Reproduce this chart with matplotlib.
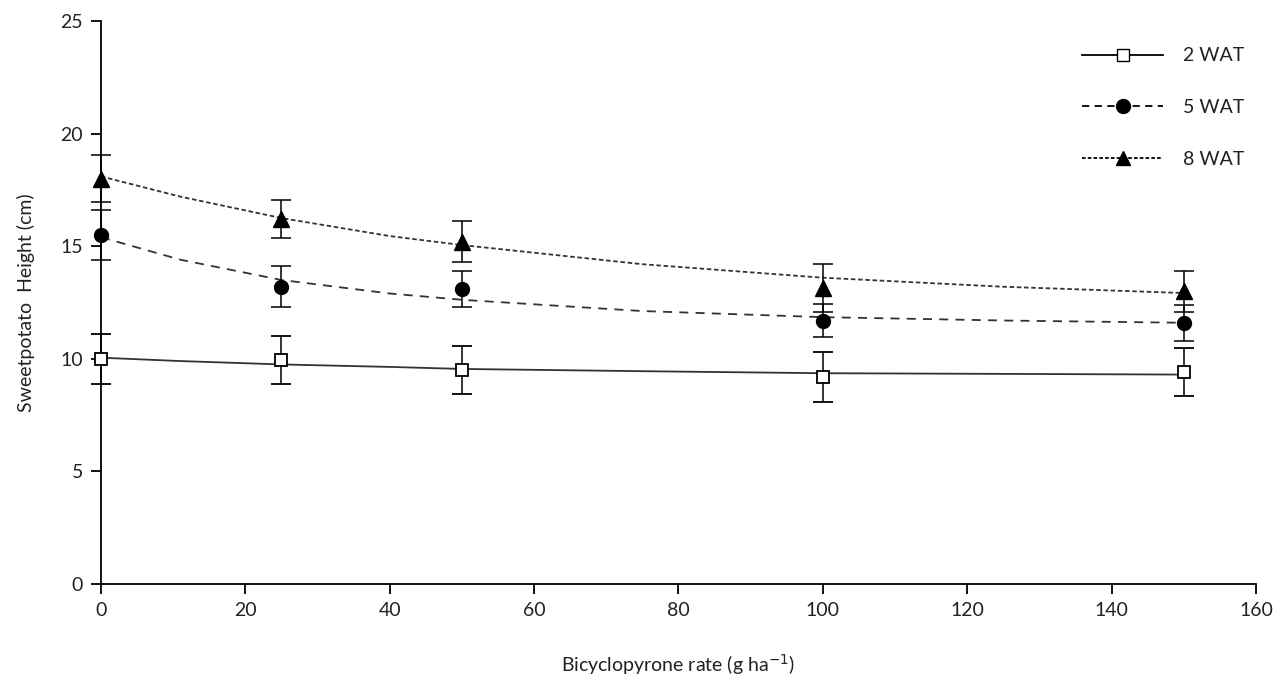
import matplotlib.pyplot as plt

plt.rcParams['font.family'] = ['Lato', 'DejaVu Sans']

# observed means and error bars
rate = [0, 25, 50, 100, 150]
wat2 = [10.0, 9.95, 9.5, 9.2, 9.4]
wat2_err = [1.1, 1.05, 1.05, 1.1, 1.07]
wat5 = [15.5, 13.2, 13.1, 11.7, 11.6]
wat5_err = [1.1, 0.9, 0.8, 0.75, 0.8]
wat8 = [18.0, 16.2, 15.2, 13.15, 13.0]
wat8_err = [1.05, 0.85, 0.9, 1.05, 0.9]

# fitted curves
fit_x = [0, 11, 25, 40, 50, 75, 100, 125, 150]
fit2 = [10.05, 9.9, 9.75, 9.64, 9.55, 9.45, 9.36, 9.33, 9.3]
fit5 = [15.4, 14.4, 13.5, 12.9, 12.62, 12.12, 11.85, 11.7, 11.6]
fit8 = [18.1, 17.2, 16.25, 15.45, 15.05, 14.2, 13.6, 13.2, 12.92]

fig = plt.figure(figsize=(12.81, 6.81), dpi=100)
ax = fig.add_axes([0.0788, 0.1424, 0.9017, 0.8268])

txt = '#222222'
ln = '#333333'

ax.plot(fit_x, fit2, color=ln, lw=1.3, ls='-', zorder=2)
ax.plot(fit_x, fit5, color=ln, lw=1.3, ls=(0, (5, 4)), zorder=2)
ax.plot(fit_x, fit8, color=ln, lw=1.3, ls=(0, (2.5, 1.5)), zorder=2)

ax.errorbar(rate, wat2, yerr=wat2_err, fmt='s', mfc='white', mec='black', mew=1.3,
            ms=9, ecolor='black', elinewidth=1.1, capsize=7, capthick=1.1,
            clip_on=False, zorder=3)
ax.errorbar(rate, wat5, yerr=wat5_err, fmt='o', color='black', ms=10,
            ecolor='black', elinewidth=1.1, capsize=7, capthick=1.1,
            clip_on=False, zorder=3)
ax.errorbar(rate, wat8, yerr=wat8_err, fmt='^', color='black', ms=11,
            ecolor='black', elinewidth=1.1, capsize=7, capthick=1.1,
            clip_on=False, zorder=3)

# legend handles
h2, = ax.plot([], [], color='black', lw=1.3, ls='-', marker='s', mfc='white',
              mec='black', ms=9)
h5, = ax.plot([], [], color='black', lw=1.3, ls=(0, (4, 3)), marker='o', ms=10)
h8, = ax.plot([], [], color='black', lw=1.3, ls=(0, (2, 1.2)), marker='^', ms=10)
leg = ax.legend([h2, h5, h8], ['2 WAT', '5 WAT', '8 WAT'], loc='upper right',
                bbox_to_anchor=(1.005, 0.984), frameon=False, handlelength=4.2,
                labelspacing=1.78, handletextpad=1.0, fontsize=14)
for t in leg.get_texts():
    t.set_color(txt)

ax.set_xlim(0, 160)
ax.set_ylim(0, 25)
ax.set_xticks(range(0, 161, 20))
ax.set_yticks(range(0, 26, 5))
ax.spines['top'].set_visible(False)
ax.spines['right'].set_visible(False)
ax.spines['left'].set_linewidth(1.3)
ax.spines['bottom'].set_linewidth(1.3)
ax.tick_params(direction='out', length=7, width=1.3, labelsize=14,
               labelcolor=txt, pad=6)

ax.set_xlabel('Bicyclopyrone rate (g ha$^{-1}$)', fontsize=14, color=txt, labelpad=24)
ax.set_ylabel('Sweetpotato  Height (cm)', fontsize=14, color=txt, labelpad=18)

plt.savefig('out.png', dpi=100)
